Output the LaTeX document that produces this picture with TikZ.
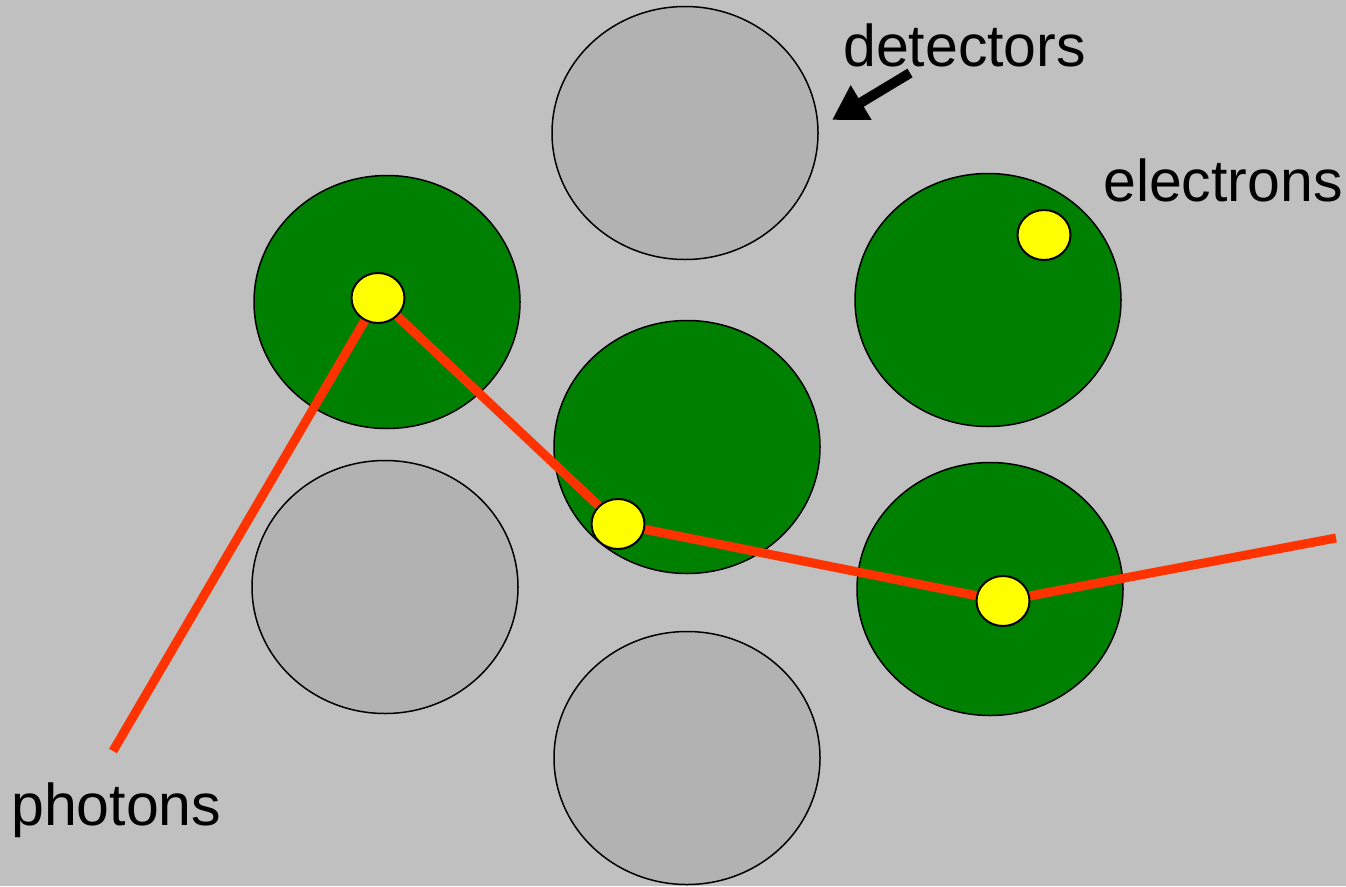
\documentclass[tikz,border=0pt]{standalone}
\usepackage{fontspec}
\setmainfont{Liberation Sans}
\usetikzlibrary{shapes.geometric,arrows.meta}
\definecolor{bg}{HTML}{C0C0C0}
\definecolor{det}{HTML}{B2B2B2}
\definecolor{grn}{HTML}{008000}
\definecolor{ylw}{HTML}{FFFF00}
\definecolor{ray}{HTML}{FF3300}
\tikzset{
  cell/.style={ellipse, draw=black, line width=1.5pt, minimum width=266pt, minimum height=253pt, inner sep=0pt},
  idle/.style={cell, fill=det},
  active/.style={cell, fill=grn},
  dot/.style={ellipse, draw=black, line width=2pt, fill=ylw, minimum width=53pt, minimum height=50pt, inner sep=0pt},
  lbl/.style={font=\fontsize{59}{61}\selectfont, inner sep=0pt, anchor=base west},
  beam/.style={draw=ray, line width=9pt}
}
\begin{document}
\begin{tikzpicture}[x=1pt,y=-1pt]
\useasboundingbox (0,0) rectangle (1346,886);
\fill[bg] (0,0) rectangle (1346,886);
\node[idle] (d1) at (685,133) {};
\node[active] (g1) at (387,302) {};
\node[active] (g2) at (988,300) {};
\node[active] (g3) at (687,447) {};
\node[idle] (d2) at (385,587) {};
\node[active] (g4) at (990,589) {};
\node[idle] (d3) at (687,758) {};
\coordinate (pstart) at (113,751);
\coordinate (pend) at (1336,538);
\coordinate (e1) at (378,298);
\coordinate (e2) at (618,524);
\coordinate (e3) at (1003,601);
\draw[beam] (pstart) -- (e1) -- (e2) -- (e3) -- (pend);
\node[dot] (y1) at (e1) {};
\node[dot] (y2) at (e2) {};
\node[dot] (y3) at (e3) {};
\node[dot] (y4) at (1044,235) {};
\node[lbl] (tdet) at (843,66) {detectors};
\node[lbl] (tele) at (1103,201) {electrons};
\node[lbl] (tpho) at (11,825) {photons};
\coordinate (atail) at (910,73);
\coordinate (ahead) at (832,120);
\draw[line width=10pt, -{Triangle[length=34pt,width=38pt]}] (atail) -- (ahead);
\end{tikzpicture}
\end{document}
